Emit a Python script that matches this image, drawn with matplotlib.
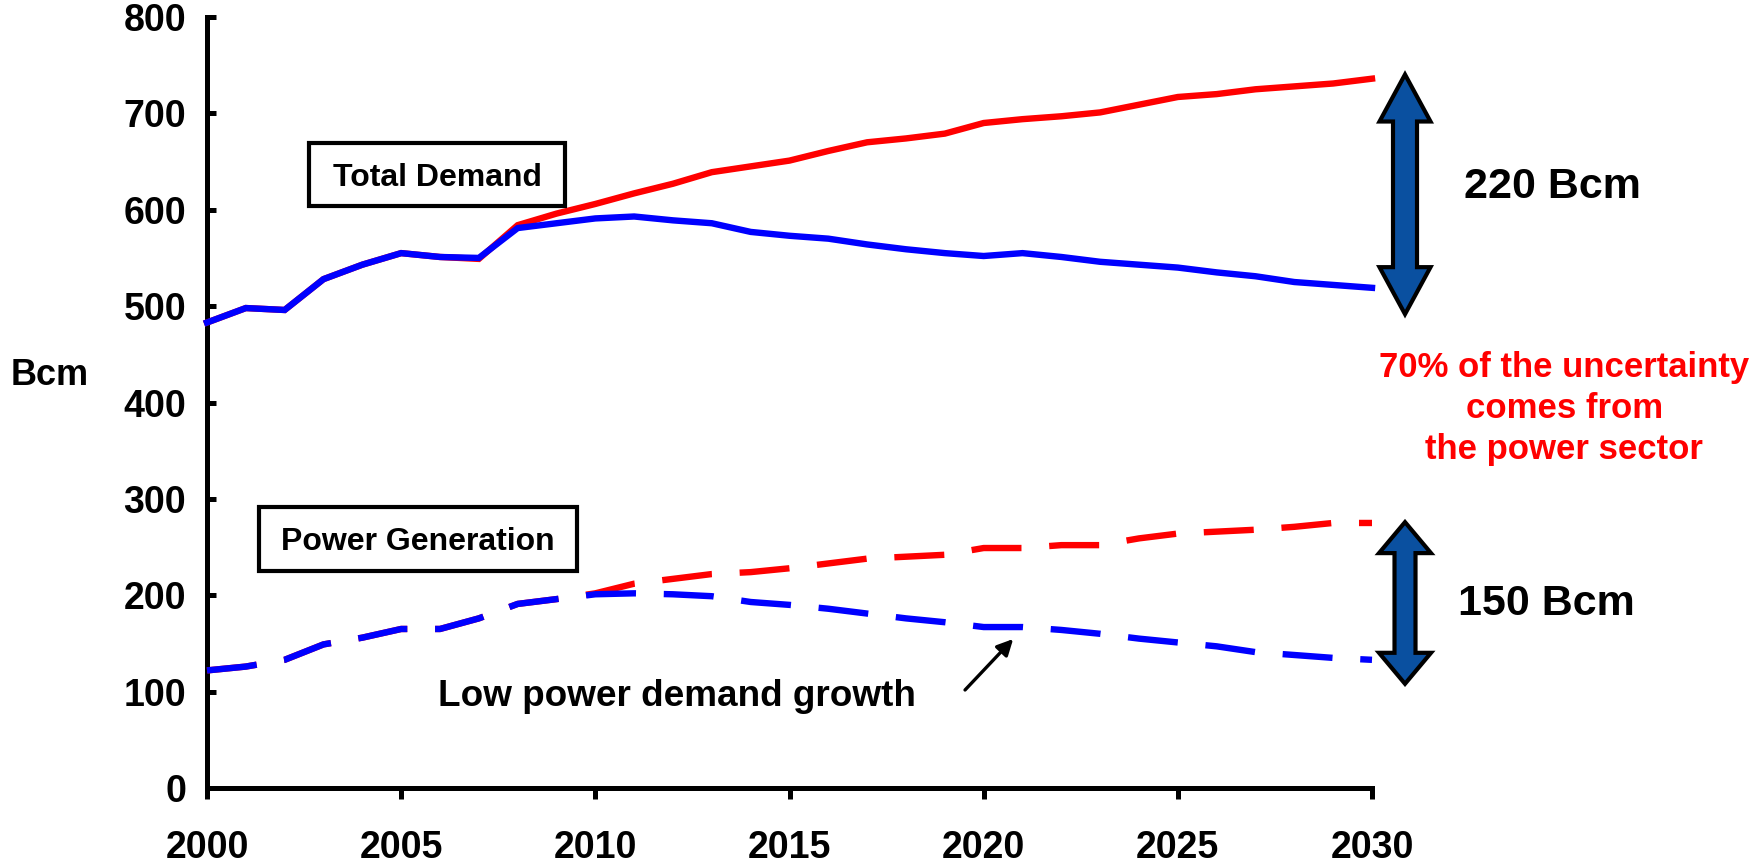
import matplotlib
matplotlib.use("Agg")
import matplotlib.pyplot as plt
from matplotlib.patches import Polygon, Rectangle
from matplotlib.transforms import IdentityTransform

# ---------------- data ----------------
years = list(range(2000, 2031))
total_high = [483, 498, 496, 528, 543, 555, 551, 549, 584, 596, 606, 617, 627, 639, 645, 651,
              661, 670, 674, 679, 690, 694, 697, 701, 709, 717, 720, 725, 728, 731, 736]
total_low = [483, 498, 496, 528, 543, 555, 551, 550, 581, 586, 591, 593, 589, 586, 577, 573,
             570, 564, 559, 555, 552, 555, 551, 546, 543, 540, 535, 531, 525, 522, 519]
power_high = [122, 126, 133, 149, 156, 165, 165, 176, 191, 196, 202, 212, 217, 222, 224, 228,
              233, 238, 240, 242, 249, 249, 252, 252, 259, 264, 266, 268, 271, 275, 275]
power_low = [122, 126, 133, 149, 156, 165, 165, 176, 191, 196, 201, 202, 201, 199, 193, 190,
             186, 181, 176, 172, 167, 167, 164, 160, 155, 151, 147, 141, 138, 135, 133]

x_ticks = [2000, 2005, 2010, 2015, 2020, 2025, 2030]
y_ticks = [0, 100, 200, 300, 400, 500, 600, 700, 800]

span_labels = ["220 Bcm", "150 Bcm"]
span_ranges = [(745, 487), (279, 105)]
uncertainty_lines = ["70% of the uncertainty", "comes from", "the power sector"]

RED = "#FF0000"
BLUE = "#0000FF"
ARROW_FILL = "#0A50A0"

plt.rcParams["font.family"] = ["Liberation Sans", "DejaVu Sans"]
plt.rcParams["font.weight"] = "bold"
plt.rcParams["lines.scale_dashes"] = False

W, H = 1753, 866
fig = plt.figure(figsize=(W / 100, H / 100), dpi=100)
ax = fig.add_axes([207 / W, 1 - 788 / H, (1372 - 207) / W, (788 - 17) / H])

lw = 4.6
ax.plot(years, total_high, color=RED, lw=lw, solid_joinstyle="miter", zorder=3, clip_on=False)
ax.plot(years, total_low, color=BLUE, lw=lw, solid_joinstyle="miter", zorder=4, clip_on=False)
ax.plot(years, power_high, color=RED, lw=lw, dashes=(36, 20), zorder=3, clip_on=False)
ax.plot(years, power_low, color=BLUE, lw=lw, dashes=(36, 20), zorder=4, clip_on=False)

ax.set_xlim(2000, 2030)
ax.set_ylim(0, 800)
ax.set_xticks(x_ticks)
ax.set_yticks(y_ticks)
for s in ["top", "right"]:
    ax.spines[s].set_visible(False)
for s in ["left", "bottom"]:
    ax.spines[s].set_linewidth(3.6)
ax.tick_params(axis="y", direction="in", length=6.5, width=3.6, pad=15, labelsize=27)
ax.tick_params(axis="x", direction="out", length=8, width=3.6, pad=22, labelsize=27)
for lab in ax.get_xticklabels() + ax.get_yticklabels():
    lab.set_fontweight("bold")

fig.text(50 / W, 1 - 385 / H, "Bcm", ha="center", va="baseline", fontsize=26, fontweight="bold")

# boxed labels
def boxed_label(text, cx, cy, bw, bh):
    fig.add_artist(Rectangle((cx - bw / 2, H - cy - bh / 2), bw, bh, transform=IdentityTransform(),
                             fill=False, ec="black", lw=3.0, joinstyle="miter", zorder=5))
    fig.text(cx / W, 1 - cy / H, text, ha="center", va="center_baseline", fontsize=23,
             fontweight="bold", zorder=6)

boxed_label("Total Demand", 437, 174.5, 256, 63)
boxed_label("Power Generation", 418, 539, 318, 64)

# annotation with arrow
ax.text(2012.1, 85, "Low power demand growth", ha="center", va="baseline", fontsize=26.6,
        fontweight="bold")
ax.annotate("", xy=(2020.76, 154.6), xytext=(2019.52, 101.7),
            arrowprops=dict(arrowstyle="-|>", lw=2.4, color="black", mutation_scale=24,
                            shrinkA=0, shrinkB=0))

# double arrows
fig.canvas.draw()
def double_arrow(x, y_top, y_bot, head_len, head_hw, shaft_hw, inset):
    cx, ty = ax.transData.transform((x, y_top))
    _, by = ax.transData.transform((x, y_bot))
    ty -= inset
    by += inset
    verts = [(cx, ty), (cx + head_hw, ty - head_len), (cx + shaft_hw, ty - head_len),
             (cx + shaft_hw, by + head_len), (cx + head_hw, by + head_len), (cx, by),
             (cx - head_hw, by + head_len), (cx - shaft_hw, by + head_len),
             (cx - shaft_hw, ty - head_len), (cx - head_hw, ty - head_len)]
    fig.add_artist(Polygon(verts, closed=True, transform=IdentityTransform(), fc=ARROW_FILL,
                           ec="black", lw=3.0, joinstyle="miter", zorder=5))

double_arrow(2030.85, span_ranges[0][0], span_ranges[0][1], 47, 25.5, 12, 4.5)
double_arrow(2030.85, span_ranges[1][0], span_ranges[1][1], 31, 26, 10.5, 3)

ax.text(2034.65, 612, span_labels[0], ha="center", va="baseline", fontsize=31,
        fontweight="bold", clip_on=False)
ax.text(2034.5, 180, span_labels[1], ha="center", va="baseline", fontsize=31,
        fontweight="bold", clip_on=False)

for line, yv in zip(uncertainty_lines, [426, 383.6, 341]):
    ax.text(2034.95, yv, line, ha="center", va="baseline", fontsize=25, fontweight="bold",
            color=RED, clip_on=False)

fig.savefig("out.png", dpi=100)
